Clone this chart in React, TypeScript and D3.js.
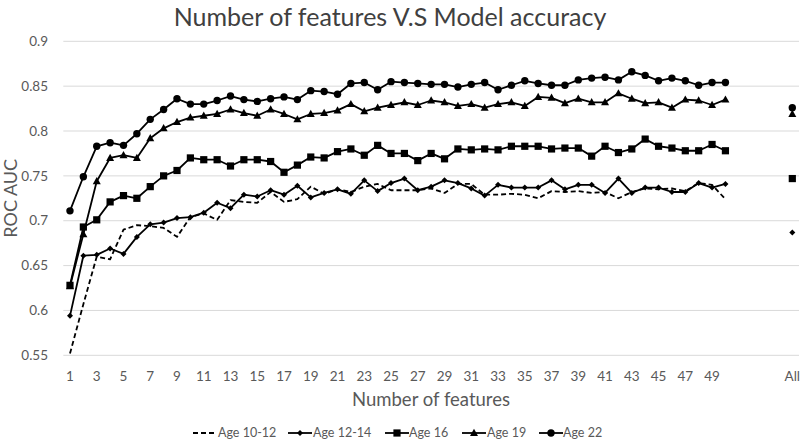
import React from "react";
import * as d3 from "d3";

const categories: string[] = [
  ...Array.from({ length: 50 }, (_, i) => String(i + 1)),
  "", "", "", "", "All",
];
const tickLabels: string[] = [
  "1","3","5","7","9","11","13","15","17","19","21","23","25","27","29","31","33","35","37","39","41","43","45","47","49","All",
];
const yTicks: number[] = [0.55, 0.6, 0.65, 0.7, 0.75, 0.8, 0.85, 0.9];

const age1012: number[] = [0.552,0.607,0.660,0.657,0.690,0.695,0.694,0.692,0.682,0.704,0.708,0.701,0.723,0.721,0.720,0.732,0.721,0.724,0.738,0.730,0.735,0.732,0.738,0.741,0.734,0.734,0.734,0.736,0.731,0.741,0.741,0.729,0.729,0.730,0.729,0.725,0.733,0.732,0.733,0.731,0.732,0.725,0.732,0.736,0.735,0.736,0.733,0.742,0.740,0.724];
const age1214: number[] = [0.594,0.661,0.662,0.669,0.663,0.682,0.696,0.698,0.703,0.704,0.709,0.720,0.714,0.729,0.727,0.734,0.729,0.739,0.726,0.731,0.735,0.730,0.745,0.733,0.742,0.747,0.734,0.738,0.745,0.742,0.736,0.728,0.740,0.737,0.737,0.737,0.745,0.735,0.740,0.740,0.731,0.747,0.731,0.737,0.737,0.732,0.732,0.742,0.737,0.741];
const age16: number[] = [0.628,0.693,0.701,0.721,0.728,0.725,0.738,0.750,0.756,0.770,0.768,0.768,0.761,0.768,0.768,0.766,0.754,0.762,0.771,0.770,0.777,0.780,0.773,0.784,0.775,0.775,0.767,0.775,0.769,0.780,0.779,0.780,0.779,0.783,0.783,0.783,0.780,0.781,0.781,0.772,0.783,0.776,0.780,0.791,0.783,0.781,0.778,0.778,0.785,0.778];
const age19: number[] = [0.627,0.685,0.744,0.770,0.773,0.770,0.792,0.803,0.810,0.815,0.817,0.819,0.824,0.820,0.817,0.824,0.819,0.813,0.819,0.820,0.823,0.830,0.822,0.826,0.829,0.832,0.829,0.834,0.832,0.828,0.830,0.826,0.830,0.832,0.828,0.838,0.837,0.831,0.836,0.832,0.832,0.842,0.836,0.831,0.832,0.826,0.835,0.834,0.829,0.835];
const age22: number[] = [0.711,0.749,0.783,0.787,0.784,0.797,0.813,0.824,0.836,0.830,0.830,0.834,0.839,0.835,0.833,0.836,0.838,0.835,0.845,0.844,0.841,0.853,0.854,0.846,0.855,0.854,0.853,0.852,0.852,0.849,0.852,0.854,0.846,0.851,0.856,0.853,0.851,0.851,0.857,0.859,0.860,0.857,0.866,0.862,0.856,0.859,0.856,0.851,0.854,0.854];
const seriesNames: string[] = ["Age 10-12", "Age 12-14", "Age 16", "Age 19", "Age 22"];
const allValues: (number | null)[] = [null, 0.687, 0.747, 0.819, 0.826];
const markers: string[] = ["none", "diamond", "square", "triangle", "circle"];

const W = 800, H = 441;
const plot = { left: 63.3, right: 799, top: 41.3, bottom: 355.3 };
const textColor = "#595959";
const font = "Lato, 'Open Sans', sans-serif";

function Marker({ type, x, y }: { type: string; x: number; y: number }) {
  if (type === "circle") return <circle cx={x} cy={y} r={3.7} fill="#000" />;
  if (type === "square") return <rect x={x - 3.6} y={y - 3.6} width={7.2} height={7.2} fill="#000" />;
  if (type === "triangle")
    return <path d={`M${x},${y - 4.2}L${x + 4},${y + 3}L${x - 4},${y + 3}Z`} fill="#000" />;
  if (type === "diamond")
    return <path d={`M${x},${y - 3}L${x + 3},${y}L${x},${y + 3}L${x - 3},${y}Z`} fill="#000" />;
  return null;
}

export default function App() {
  const seriesData = [age1012, age1214, age16, age19, age22];
  const x = d3
    .scaleBand<string>()
    .domain(categories.map((_, i) => String(i)))
    .range([plot.left, plot.right])
    .paddingInner(0)
    .paddingOuter(0);
  const cx = (i: number) => (x(String(i)) as number) + x.bandwidth() / 2;
  const y = d3.scaleLinear().domain([0.55, 0.9]).range([plot.bottom, plot.top]);
  const line = d3
    .line<number>()
    .x((_, i) => cx(i))
    .y((d) => y(d));

  const tickIdx = categories
    .map((c, i) => ({ c, i }))
    .filter((d) => tickLabels.includes(d.c) && d.c !== "");

  const legendItems = [
    { lx: 193, tx: 218 },
    { lx: 288, tx: 313 },
    { lx: 385, tx: 409 },
    { lx: 462, tx: 487 },
    { lx: 539, tx: 563 },
  ];

  return (
    <svg
      width={W}
      height={H}
      style={{ position: "absolute", left: 0, top: 0, background: "#fff" }}
      fontFamily={font}
    >
      <rect width={W} height={H} fill="#fff" />
      <text x={390} y={26} textAnchor="middle" fontSize={25} fill="#404040">
        Number of features V.S Model accuracy
      </text>
      {yTicks.map((t) => (
        <g key={t}>
          <line x1={plot.left} x2={plot.right} y1={y(t)} y2={y(t)} stroke="#d9d9d9" strokeWidth={1} />
          <text x={48} y={y(t)} dy="0.35em" textAnchor="end" fontSize={13.5} fill={textColor}>
            {String(t)}
          </text>
        </g>
      ))}
      {tickIdx.map(({ c, i }) => (
        <text key={i} x={cx(i)} y={376} dy="0.35em" textAnchor="middle" fontSize={13.5} fill={textColor}>
          {c}
        </text>
      ))}
      <text x={431} y={400} dy="0.35em" textAnchor="middle" fontSize={18.5} fill={textColor}>
        Number of features
      </text>
      <text
        transform={`translate(10.5,${(plot.top + plot.bottom) / 2}) rotate(-90)`}
        dy="0.35em"
        textAnchor="middle"
        fontSize={18}
        fill={textColor}
      >
        ROC AUC
      </text>
      {seriesData.map((s, k) => (
        <g key={k}>
          <path
            d={line(s) || ""}
            fill="none"
            stroke="#000"
            strokeWidth={1.8}
            strokeDasharray={k === 0 ? "5,3" : undefined}
            strokeLinejoin="round"
          />
          {s.map((v, i) => (
            <Marker key={i} type={markers[k]} x={cx(i)} y={y(v)} />
          ))}
          {allValues[k] !== null && (
            <Marker type={markers[k]} x={cx(categories.length - 1)} y={y(allValues[k] as number)} />
          )}
        </g>
      ))}
      {legendItems.map((it, k) => (
        <g key={k}>
          <line
            x1={it.lx}
            x2={it.lx + 24}
            y1={433}
            y2={433}
            stroke="#000"
            strokeWidth={1.8}
            strokeDasharray={k === 0 ? "5,3" : undefined}
          />
          <Marker type={markers[k]} x={it.lx + 12} y={433} />
          <text x={it.tx} y={433} dy="0.35em" fontSize={12.5} fill={textColor}>
            {seriesNames[k]}
          </text>
        </g>
      ))}
    </svg>
  );
}
